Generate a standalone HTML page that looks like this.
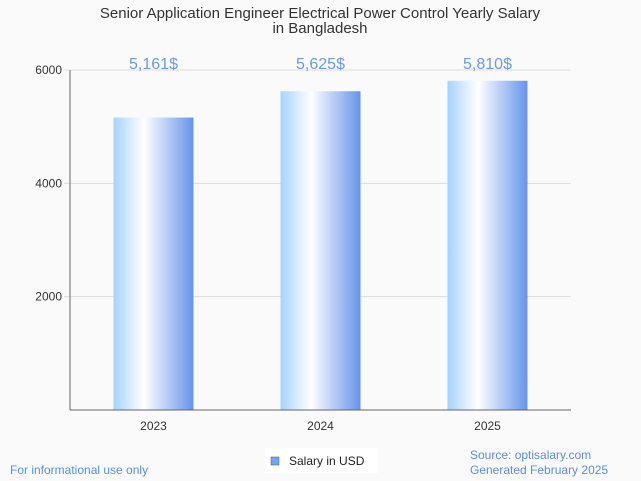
<!DOCTYPE html>
<html><head><meta charset="utf-8"><style>
body{margin:0;background:#fff;font-family:"Liberation Sans",sans-serif}
svg{display:block}
</style></head><body>
<svg width="641" height="481" xmlns="http://www.w3.org/2000/svg">
<defs><linearGradient id="g" x1="0" x2="1" y1="0" y2="0">
<stop offset="0" stop-color="#a6d3ff"/><stop offset="0.38" stop-color="#ffffff"/><stop offset="1" stop-color="#6694ea"/>
</linearGradient></defs>
<rect width="641" height="481" fill="#fafafa"/>
<text x="320" y="18" text-anchor="middle" font-size="15" fill="#333">Senior Application Engineer Electrical Power Control Yearly Salary</text>
<text x="320" y="33" text-anchor="middle" font-size="15" fill="#333">in Bangladesh</text>
<g id="grid"></g><g id="bars"></g>
<line x1="70" y1="70" x2="70" y2="410" stroke="#666"/>
<line x1="70" y1="410" x2="571" y2="410" stroke="#666"/>
<rect x="265" y="448" width="113" height="25" fill="#fff"/>
<rect x="271" y="457" width="8" height="8" fill="#6aa8f0" stroke="#555" stroke-width="0.5"/>
<text x="289" y="465" font-size="12" fill="#222">Salary in USD</text>
<text x="10" y="474" font-size="12" fill="#5b8de0">For informational use only</text>
<text x="470" y="459" font-size="12" fill="#5b8de0">Source: optisalary.com</text>
<text x="470" y="474" font-size="12" fill="#5b8de0">Generated February 2025</text>
</svg>
<script>
const categories=["2023","2024","2025"];
const values=[5161,5625,5810];
const valueLabels=["5,161$","5,625$","5,810$"];
const yTicks=[2000,4000,6000];
const NS="http://www.w3.org/2000/svg";
const x0=70,x1=571,yTop=70,yBot=410,yMax=6000;
const y=v=>yBot-(v/yMax)*(yBot-yTop);
const bw=(x1-x0)/categories.length;
const grid=document.getElementById("grid"),bars=document.getElementById("bars");
function mk(tag,at,parent,txt){const e=document.createElementNS(NS,tag);for(const k in at)e.setAttribute(k,at[k]);if(txt!==undefined)e.textContent=txt;parent.appendChild(e);return e;}
yTicks.forEach(t=>{
 const l=mk("line",{x1:x0-6,x2:x1,y1:y(t),y2:y(t),stroke:"#ddd"},grid);
 
 
 const tx=mk("text",{x:x0-8,y:y(t)+4,"text-anchor":"end","font-size":12,fill:"#333"},grid,String(t));
 
 
});
categories.forEach((c,i)=>{
 const cx=x0+bw*(i+0.5);
 const r=mk("rect",{x:cx-40,y:y(values[i]),width:80,height:yBot-y(values[i]),fill:"url(#g)"},bars);
 
 
 const lb=mk("text",{x:cx,y:69,"text-anchor":"middle","font-size":16,fill:"#6a9ae8"},bars,valueLabels[i]);
 
 
 const xl=mk("text",{x:cx,y:430,"text-anchor":"middle","font-size":12,fill:"#333"},bars,c);
 
 
});
</script>
</body></html>
